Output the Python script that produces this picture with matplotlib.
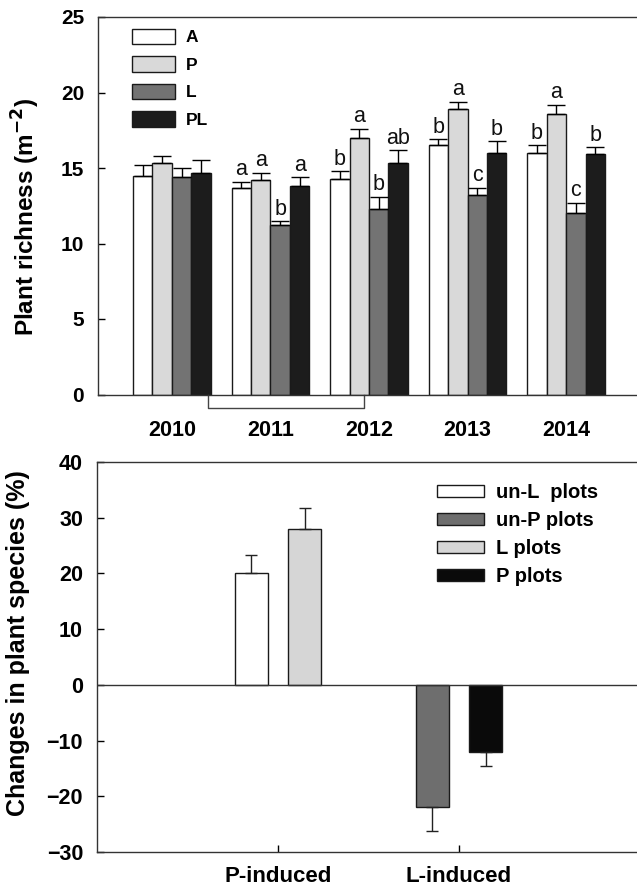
import numpy as np
import matplotlib
matplotlib.use("Agg")
import matplotlib.pyplot as plt
import matplotlib.transforms as mtransforms

plt.rcParams['font.family'] = ['Liberation Sans', 'DejaVu Sans']

# ---- Plant richness by year and treatment ----
years = ['2010', '2011', '2012', '2013', '2014']
treatments = ['A', 'P', 'L', 'PL']
richness_A = [14.5, 13.7, 14.3, 16.5, 16.0]
richness_P = [15.3, 14.2, 17.0, 18.9, 18.6]
richness_L = [14.4, 11.2, 12.3, 13.2, 12.0]
richness_PL = [14.7, 13.8, 15.3, 16.0, 15.9]
se_A = [0.7, 0.4, 0.5, 0.4, 0.5]
se_P = [0.5, 0.5, 0.6, 0.5, 0.6]
se_L = [0.6, 0.3, 0.8, 0.5, 0.7]
se_PL = [0.8, 0.6, 0.9, 0.8, 0.5]
letters_A = ['', 'a', 'b', 'b', 'b']
letters_P = ['', 'a', 'a', 'a', 'a']
letters_L = ['', 'b', 'b', 'c', 'c']
letters_PL = ['', 'a', 'ab', 'b', 'b']

# ---- Change in plant species ----
effects = ['P-induced', 'L-induced']
plot_groups = ['un-L  plots', 'un-P plots', 'L plots', 'P plots']
change_unL = [20.0, np.nan]
change_unP = [np.nan, -22.0]
change_Lplots = [28.0, np.nan]
change_Pplots = [np.nan, -12.0]
se_unL = [3.3, np.nan]
se_unP = [np.nan, 4.3]
se_Lplots = [3.7, np.nan]
se_Pplots = [np.nan, 2.5]

top_colors = ['#ffffff', '#d9d9d9', '#737373', '#1c1c1c']
bot_colors = ['#ffffff', '#6e6e6e', '#d6d6d6', '#0a0a0a']
edge = '#1a1a1a'

fig = plt.figure(figsize=(6.37, 8.9), dpi=100)
W, H = 637.0, 890.0

# ================= top panel =================
ax1 = fig.add_axes([98 / W, 1 - 394.5 / H, 542 / W, 377.5 / H])
x = np.arange(len(years))
bw = 0.197
means = [richness_A, richness_P, richness_L, richness_PL]
errs = [se_A, se_P, se_L, se_PL]
letters = [letters_A, letters_P, letters_L, letters_PL]
for k, (m, e, lt, c, lab) in enumerate(zip(means, errs, letters, top_colors, treatments)):
    xs = x + (k - 1.5) * bw
    m = np.asarray(m)
    e = np.asarray(e)
    ax1.bar(xs, m, width=bw, color=c, edgecolor=edge, linewidth=1.0, label=lab, zorder=2)
    ax1.errorbar(xs, m, yerr=[np.zeros_like(e), e], fmt='none', ecolor='black',
                 elinewidth=1.0, capsize=6.2, capthick=1.0, zorder=3)
    for xi, yi, s in zip(xs, m + e, lt):
        if s:
            ax1.annotate(s, (xi, yi), xytext=(0, 4.5), textcoords='offset points',
                         ha='center', va='baseline', fontsize=15.5, color='#111111')

ax1.set_xlim(-0.75, 4.75)
ax1.set_ylim(0, 25)
ax1.set_yticks([0, 5, 10, 15, 20, 25])
ax1.set_xticks(x)
ax1.set_xticklabels(years, fontsize=15.5, fontweight='bold')
ax1.tick_params(axis='x', length=0, pad=18)
ax1.tick_params(axis='y', direction='in', length=5, width=1, pad=10, labelsize=15)
for t in ax1.get_yticklabels():
    t.set_fontweight('bold')
for s in ['left', 'top', 'bottom']:
    ax1.spines[s].set_linewidth(1.0)
    ax1.spines[s].set_color('#333333')
ax1.spines['right'].set_visible(False)
ax1.set_ylabel('Plant richness (m$^{\\mathbf{-2}}$)', fontsize=17.5, fontweight='bold')
ax1.yaxis.set_label_coords(-0.103, 0.47)

# bracket below the axis
trans = mtransforms.blended_transform_factory(ax1.transData, ax1.transAxes)
ax1.plot([0.365, 0.365, 1.95, 1.95], [0, -0.037, -0.037, 0], color='#444444',
         lw=1.0, transform=trans, clip_on=False)

ax1.legend(loc='upper left', bbox_to_anchor=(0.063, 0.969), frameon=False,
           handlelength=2.45, handleheight=1.0,
           labelspacing=0.62, handletextpad=0.65, borderpad=0, borderaxespad=0,
           prop={'weight': 'bold', 'size': 12.5})

# ================= bottom panel =================
ax2 = fig.add_axes([97 / W, 1 - 852 / H, 543 / W, 390 / H])
xb = np.arange(len(effects))
bw2 = 0.182
off = 0.149
series = [change_unL, change_unP, change_Lplots, change_Pplots]
serrs = [se_unL, se_unP, se_Lplots, se_Pplots]
offsets = [-off, -off, off, off]
for v, e, o, c, lab in zip(series, serrs, offsets, bot_colors, plot_groups):
    v = np.asarray(v, dtype=float)
    e = np.asarray(e, dtype=float)
    xs = xb + o
    ax2.bar(xs, v, width=bw2, color=c, edgecolor=edge, linewidth=1.0, label=lab, zorder=2)
    lower = np.where(v < 0, e, 0.0)
    upper = np.where(v >= 0, e, 0.0)
    ax2.errorbar(xs, v, yerr=[lower, upper], fmt='none', ecolor='#222222',
                 elinewidth=1.0, capsize=4.3, capthick=1.0, zorder=3)

ax2.axhline(0, color='#333333', lw=1.0, zorder=4)
ax2.set_xlim(-1, 2)
ax2.set_ylim(-30, 40)
ax2.set_yticks(np.arange(-30, 41, 10))
ax2.set_xticks(xb)
ax2.set_xticklabels(effects, fontsize=16, fontweight='bold')
ax2.tick_params(axis='x', direction='in', length=5, width=1, pad=10)
ax2.tick_params(axis='y', direction='in', length=5, width=1, pad=10, labelsize=15.5)
for t in ax2.get_yticklabels():
    t.set_fontweight('bold')
for s in ['left', 'top', 'bottom']:
    ax2.spines[s].set_linewidth(1.0)
    ax2.spines[s].set_color('#333333')
ax2.spines['right'].set_visible(False)
ax2.set_ylabel('Changes in plant species (%)', fontsize=18, fontweight='bold')
ax2.yaxis.set_label_coords(-0.123, 0.536)

ax2.legend(loc='upper left', bbox_to_anchor=(0.626, 0.945), frameon=False,
           handlelength=2.35, handleheight=0.55, labelspacing=0.44,
           handletextpad=0.6, borderpad=0, borderaxespad=0,
           prop={'weight': 'bold', 'size': 14.5})

fig.savefig('out.png', dpi=100)
